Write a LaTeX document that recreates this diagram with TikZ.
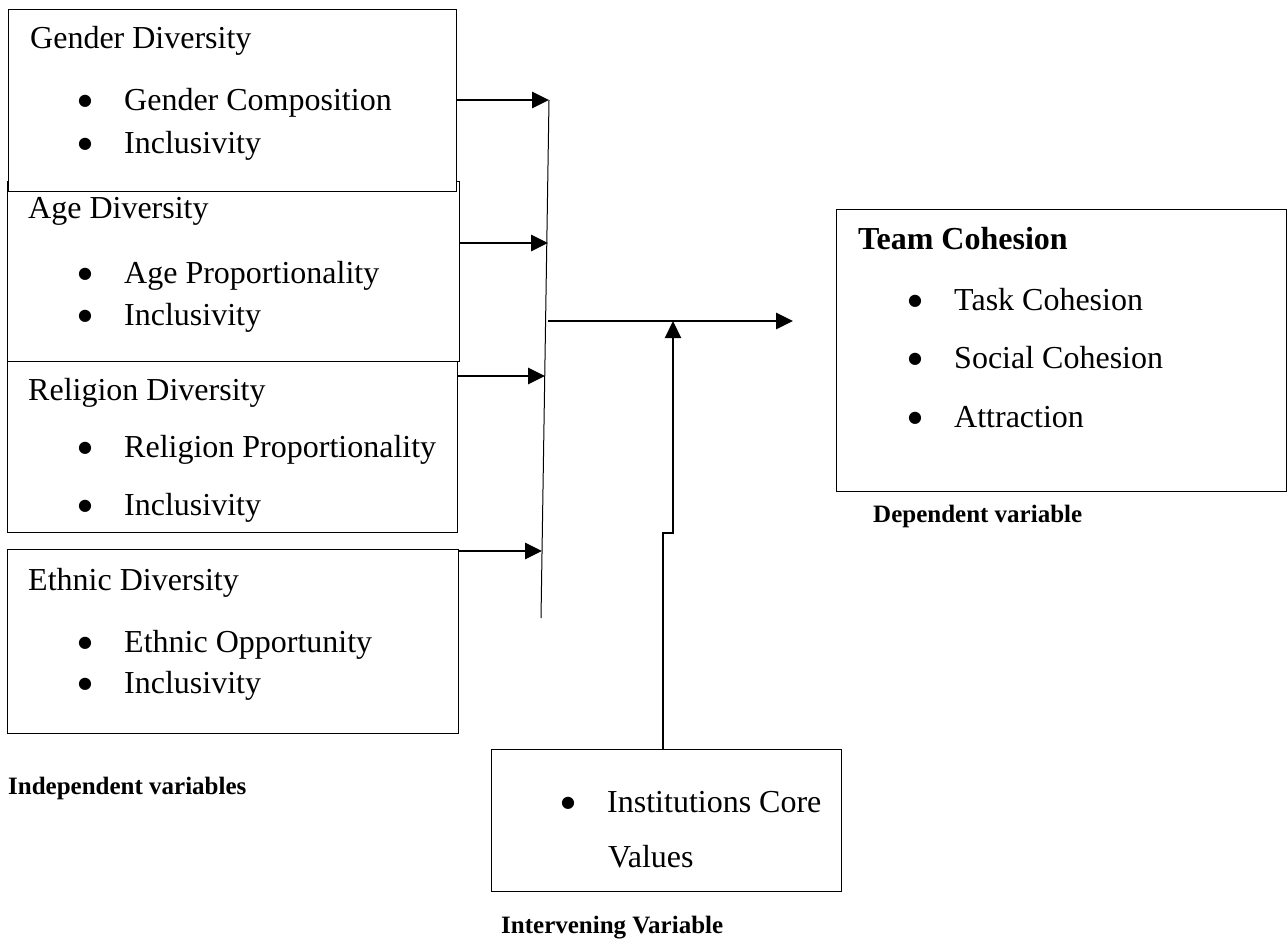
\documentclass[tikz,border=0pt]{standalone}
\usepackage{fontspec}
\setmainfont{Liberation Serif}
\newfontfamily\symfont{DejaVu Sans}
\usetikzlibrary{arrows.meta}

\tikzset{
  varbox/.style={draw, line width=1pt, fill=white, inner sep=0pt, outer sep=0pt, anchor=north west},
  txt/.style={inner sep=0pt, anchor=base west, font=\fontsize{32}{38}\selectfont},
  lbl/.style={inner sep=0pt, anchor=base west, font=\fontsize{25}{30}\selectfont\bfseries},
  link/.style={line width=2.8pt, -{Triangle[length=17pt,width=16pt]}},
  bar/.style={line width=1pt},
}
\newcommand{\bitem}[1]{\makebox[46pt][l]{\smash{\raisebox{4.5pt}{\symfont\fontsize{16}{16}\selectfont ●}}}#1}

\begin{document}
\begin{tikzpicture}[x=1pt, y=-1pt]
	\useasboundingbox (0,0) rectangle (1287,940);

	% independent variables
	\node[varbox, minimum width=452, minimum height=180] (age) at (7,181) {};
	\node[varbox, minimum width=448, minimum height=182] (gender) at (8,9) {};
	\node[varbox, minimum width=450, minimum height=171] (religion) at (7,361) {};
	\node[varbox, minimum width=451, minimum height=184] (ethnic) at (7,549) {};

	\node[txt] (gname) at (30,48) {Gender Diversity};
	\node[txt] (g1) at (78,110) {\bitem{Gender Composition}};
	\node[txt] (g2) at (78,153) {\bitem{Inclusivity}};

	\node[txt] (aname) at (28,218) {Age Diversity};
	\node[txt] (a1) at (78,283) {\bitem{Age Proportionality}};
	\node[txt] (a2) at (78,325) {\bitem{Inclusivity}};

	\node[txt] (rname) at (28,400) {Religion Diversity};
	\node[txt] (r1) at (78,457) {\bitem{Religion Proportionality}};
	\node[txt] (r2) at (78,515) {\bitem{Inclusivity}};

	\node[txt] (ename) at (28,590) {Ethnic Diversity};
	\node[txt] (e1) at (78,652) {\bitem{Ethnic Opportunity}};
	\node[txt] (e2) at (78,693) {\bitem{Inclusivity}};

	\node[lbl] (indep) at (8,794) {Independent variables};

	% dependent variable
	\node[varbox, minimum width=450, minimum height=282] (team) at (836,209) {};
	\node[txt, font=\fontsize{32}{38}\selectfont\bfseries] (tname) at (858,249) {Team Cohesion};
	\node[txt] (t1) at (908,310) {\bitem{Task Cohesion}};
	\node[txt] (t2) at (908,368) {\bitem{Social Cohesion}};
	\node[txt] (t3) at (908,427) {\bitem{Attraction}};
	\node[lbl] (dep) at (873,522) {Dependent variable};

	% intervening variable
	\node[varbox, minimum width=350, minimum height=142] (core) at (491,749) {};
	\node[txt] (c1) at (561,812) {\bitem{Institutions Core}};
	\node[txt] (c2) at (608,867) {Values};
	\node[lbl] (inter) at (501,933) {Intervening Variable};

	% connectors
	\coordinate (bartop) at (549,100);
	\coordinate (barbot) at (541,618);
	\coordinate (gin) at (549,100);
	\coordinate (ain) at (548,243);
	\coordinate (rin) at (545,376);
	\coordinate (ein) at (542,551);
	\coordinate (jn) at (548,321);
	\coordinate (tip) at (793,321);
	\coordinate (kink) at (673,533);
	\coordinate (meet) at (673,321);

	\draw[bar] (bartop) -- (barbot);
	\draw[link] (gender.east |- gin) -- (gin);
	\draw[link] (age.east |- ain) -- (ain);
	\draw[link] (religion.east |- rin) -- (rin);
	\draw[link] (ethnic.east |- ein) -- (ein);
	\draw[link] (jn) -- (tip);
	\draw[link, line width=2.2pt] ([xshift=-3pt]core.north) |- (kink) -- (meet);
\end{tikzpicture}
\end{document}
